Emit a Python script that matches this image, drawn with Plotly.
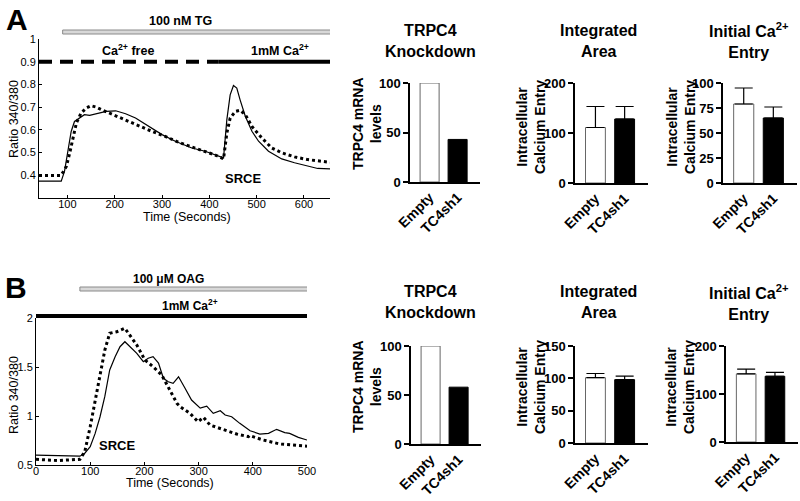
import plotly.graph_objects as go

W, H = 800, 501
F = "Liberation Sans, Arial, sans-serif"

# ---------------- data ----------------
# Panel A time course (100 nM TG)
a_solid_t = [40, 60, 87, 94, 101, 108, 115, 126, 136, 147, 161, 182, 202, 223, 244, 272, 300, 328, 363, 391,
             415, 430, 437, 444, 451, 458, 465, 476, 490, 504, 525, 553, 580, 608, 629, 655]
a_solid_v = [0.374, 0.373, 0.374, 0.418, 0.499, 0.593, 0.637, 0.652, 0.667, 0.664, 0.671, 0.681, 0.684, 0.671,
             0.652, 0.615, 0.579, 0.55, 0.52, 0.506, 0.488, 0.477, 0.645, 0.754, 0.795, 0.784, 0.732, 0.66,
             0.594, 0.55, 0.506, 0.472, 0.455, 0.44, 0.43, 0.428]
a_dot_t = [40, 60, 86, 91, 98, 105, 112, 119, 129, 140, 150, 161, 175, 196, 223, 251, 279, 307, 335, 363, 391,
           415, 430, 437, 444, 455, 465, 476, 490, 511, 532, 553, 580, 608, 655]
a_dot_v = [0.399, 0.399, 0.399, 0.414, 0.44, 0.499, 0.572, 0.63, 0.674, 0.696, 0.706, 0.70, 0.686, 0.667, 0.645,
           0.618, 0.593, 0.571, 0.545, 0.525, 0.506, 0.487, 0.472, 0.586, 0.652, 0.681, 0.686, 0.667, 0.615,
           0.564, 0.52, 0.499, 0.481, 0.469, 0.457]

# Panel B time course (100 uM OAG)
b_solid_t = [0, 40, 81, 90, 100, 109, 118, 127, 136, 146, 155, 164, 173, 186, 198, 207, 216, 226, 235, 244,
             253, 263, 275, 287, 303, 315, 327, 340, 349, 361, 376, 395, 413, 429, 444, 459, 468, 484, 500]
b_solid_v = [0.60, 0.595, 0.59, 0.62, 0.687, 0.82, 0.99, 1.20, 1.47, 1.605, 1.707, 1.758, 1.707, 1.64, 1.554,
             1.59, 1.605, 1.54, 1.385, 1.35, 1.334, 1.40, 1.283, 1.163, 1.08, 1.10, 1.027, 1.054, 1.01, 0.993,
             0.925, 0.85, 0.816, 0.823, 0.864, 0.83, 0.823, 0.782, 0.755]
b_dot_t = [0, 40, 81, 90, 100, 109, 118, 127, 136, 149, 164, 173, 186, 201, 216, 232, 247, 260, 266, 284,
           299, 309, 321, 346, 370, 392, 394, 419, 450, 500]
b_dot_v = [0.558, 0.545, 0.558, 0.636, 0.89, 1.163, 1.436, 1.673, 1.844, 1.86, 1.895, 1.827, 1.724, 1.571,
           1.503, 1.418, 1.265, 1.13, 1.095, 1.027, 0.942, 0.986, 0.908, 0.857, 0.816, 0.789, 0.80, 0.755,
           0.714, 0.692]

# Bar charts
groups = ["Empty", "TC4sh1"]
a_trpc4 = [100, 43]
a_int = [111, 128]
a_int_err = [42, 25]
a_init = [79, 65]
a_init_err = [16, 11]
b_trpc4 = [100, 58]
b_int = [101, 98]
b_int_err = [6.5, 5.5]
b_init = [142, 137]
b_init_err = [10, 8]

# ---------------- helpers ----------------
def xd(a, b):
    return [a / W, b / W]

def yd(top, bottom):
    return [1 - bottom / H, 1 - top / H]

fig = go.Figure()
layout = dict(template="none", width=W, height=H, margin=dict(l=0, r=0, t=0, b=0, pad=0),
              showlegend=False, plot_bgcolor="white", paper_bgcolor="white",
              font=dict(family=F, color="black"))

def time_axes(i, xdom, ydom, xr, yr, xtv, ytv, yttext):
    layout["xaxis%d" % i] = dict(domain=xdom, range=xr, tickvals=xtv, showline=True, linecolor="black",
                                 linewidth=1, ticks="inside", ticklen=3, tickcolor="black",
                                 showgrid=False, zeroline=False, tickfont=dict(size=11, family=F),
                                 ticklabelstandoff=-4, automargin=False, anchor="y%d" % i)
    layout["yaxis%d" % i] = dict(domain=ydom, range=yr, tickvals=ytv, ticktext=yttext, showline=True,
                                 linecolor="black", linewidth=1, ticks="inside", ticklen=3,
                                 tickcolor="black", showgrid=False, zeroline=False,
                                 tickfont=dict(size=11, family=F), automargin=False, anchor="x%d" % i)

time_axes(1, xd(39, 330), yd(39, 198), [40, 655], [0.3, 1.0],
          [100, 200, 300, 400, 500, 600], [0.4, 0.5, 0.6, 0.7, 0.8, 0.9, 1.0],
          ["0.4", "0.5", "0.6", "0.7", "0.8", "0.9", "1"])
time_axes(2, xd(36, 307), yd(318, 465), [0, 500], [0.5, 2.0],
          [0, 100, 200, 300, 400, 500], [0.5, 1, 1.5, 2], ["0.5", "1", "1.5", "2"])

fig.add_trace(go.Scatter(x=a_solid_t, y=a_solid_v, mode="lines", line=dict(color="black", width=1.2),
                         xaxis="x", yaxis="y"))
fig.add_trace(go.Scatter(x=a_dot_t, y=a_dot_v, mode="lines", line=dict(color="black", width=3, dash="dot"),
                         xaxis="x", yaxis="y"))
fig.add_trace(go.Scatter(x=b_solid_t, y=b_solid_v, mode="lines", line=dict(color="black", width=1.2),
                         xaxis="x2", yaxis="y2"))
fig.add_trace(go.Scatter(x=b_dot_t, y=b_dot_v, mode="lines", line=dict(color="black", width=3, dash="dot"),
                         xaxis="x2", yaxis="y2"))

def bar_axes(i, xdom, ydom, ymax, dtick):
    layout["xaxis%d" % i] = dict(domain=xdom, range=[-0.7, 1.8], type="category", showline=True,
                                 linecolor="black", linewidth=1.5, ticks="", showgrid=False,
                                 zeroline=False, tickangle=-45, automargin=False,
                                 tickfont=dict(size=14, family=F, weight="bold"), anchor="y%d" % i)
    layout["yaxis%d" % i] = dict(domain=ydom, range=[0, ymax], dtick=dtick, showline=True,
                                 linecolor="black", linewidth=1.5, ticks="outside", ticklen=5,
                                 tickwidth=1.5, tickcolor="black", showgrid=False, zeroline=False,
                                 automargin=False,
                                 tickfont=dict(size=13, family=F, weight="bold"), anchor="x%d" % i)

bar_specs = [
    (3, xd(410, 480), yd(83, 182), 100, 50, a_trpc4, None),
    (4, xd(575, 648), yd(83, 183), 200, 100, a_int, a_int_err),
    (5, xd(723, 797), yd(83, 183), 100, 25, a_init, a_init_err),
    (6, xd(411, 481), yd(346, 444), 100, 50, b_trpc4, None),
    (7, xd(575, 648), yd(346, 443), 150, 50, b_int, b_int_err),
    (8, xd(726, 798), yd(346, 442), 200, 100, b_init, b_init_err),
]
for i, xdom, ydom, ymax, dt, vals, err in bar_specs:
    bar_axes(i, xdom, ydom, ymax, dt)
    kw = {}
    if err is not None:
        kw["error_y"] = dict(type="data", symmetric=False, array=err, arrayminus=[0, 0],
                             color="black", thickness=1.2, width=9)
    fig.add_trace(go.Bar(x=groups, y=vals, width=0.68, marker=dict(color=["white", "black"],
                         line=dict(color=["#666666", "black"], width=1)),
                         xaxis="x%d" % i, yaxis="y%d" % i, **kw))

# ---------------- protocol bars (shapes) ----------------
shapes = []
# Panel A: TG bar (gray double line), Ca-free dashed, 1mM Ca solid
shapes.append(dict(type="rect", xref="x", yref="paper", x0=90, x1=660,
                   y0=1 - 34 / H, y1=1 - 30 / H, fillcolor="#d8d8d8", line=dict(color="#8a8a8a", width=1)))
shapes.append(dict(type="line", xref="x", yref="y", x0=40, x1=420, y0=0.9, y1=0.9,
                   line=dict(color="black", width=4, dash="13px,8px")))
shapes.append(dict(type="line", xref="x", yref="y", x0=420, x1=660, y0=0.9, y1=0.9,
                   line=dict(color="black", width=4)))
# Panel B: OAG bar and 1mM Ca line
shapes.append(dict(type="rect", xref="x2", yref="paper", x0=81, x1=510,
                   y0=1 - 291 / H, y1=1 - 287 / H, fillcolor="#d8d8d8", line=dict(color="#8a8a8a", width=1)))
shapes.append(dict(type="line", xref="x2", yref="paper", x0=0, x1=510, y0=1 - 316 / H, y1=1 - 316 / H,
                   line=dict(color="black", width=4)))
layout["shapes"] = shapes

# ---------------- annotations ----------------
anns = []

def ann(text, px, py, size, angle=0):
    anns.append(dict(x=px / W, y=1 - py / H, xref="paper", yref="paper", text=text, showarrow=False,
                     font=dict(size=size, family=F, color="black"), xanchor="center", yanchor="middle",
                     textangle=angle))

ann("<b>A</b>", 17, 20, 30)
ann("<b>B</b>", 16, 287, 30)
ann("<b>100 nM TG</b>", 180, 21, 12.5)
ann("<b>Ca<sup>2+</sup> free</b>", 128, 50, 12.5)
ann("<b>1mM Ca<sup>2+</sup></b>", 280, 50, 12.5)
ann("<b>SRCE</b>", 243, 178, 13)
ann("Time (Seconds)", 187, 217, 12.5)
ann("Ratio 340/380", 14, 119, 12.5, -90)
ann("<b>100 \u03bcM OAG</b>", 168, 279, 12)
ann("<b>1mM Ca<sup>2+</sup></b>", 190, 305, 12)
ann("<b>SRCE</b>", 117, 445, 13)
ann("Time (Seconds)", 170, 483, 12.5)
ann("Ratio 340/380", 14, 395, 12.5, -90)

for top in (41, 302):
    ann("<b>TRPC4<br>Knockdown</b>", 430, top, 16)
    ann("<b>Integrated<br>Area</b>", 598, top, 16)
    ann("<b>Initial Ca<sup>2+</sup><br>Entry</b>", 749, top, 16)

ann("<b>TRPC4 mRNA<br>levels</b>", 367, 124, 14, -90)
ann("<b>Intracellular<br>Calcium Entry</b>", 531, 127, 14, -90)
ann("<b>Intracellular<br>Calcium Entry</b>", 681, 127, 14, -90)
ann("<b>TRPC4 mRNA<br>levels</b>", 367, 387, 14, -90)
ann("<b>Intracellular<br>Calcium Entry</b>", 531, 387, 14, -90)
ann("<b>Intracellular<br>Calcium Entry</b>", 680, 387, 14, -90)
layout["annotations"] = anns

fig.update_layout(**layout)
fig.write_html("out.html", config={"displayModeBar": False},
               post_script="document.body.style.margin='0';document.body.style.overflow='hidden';")
